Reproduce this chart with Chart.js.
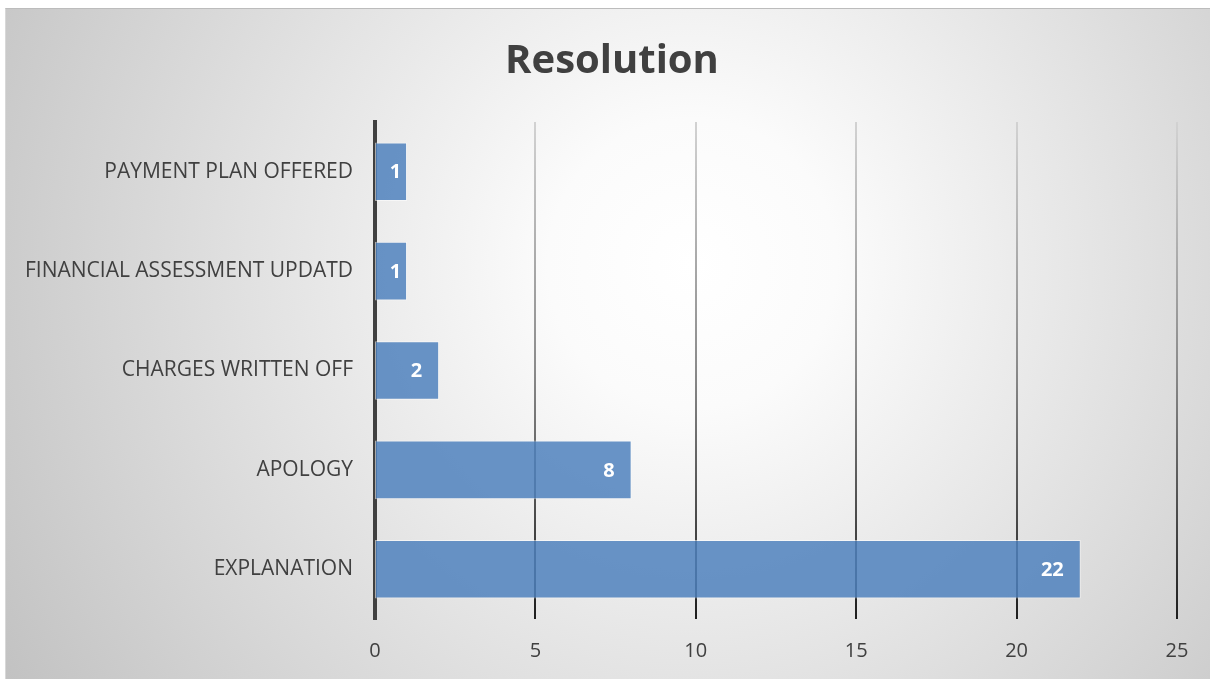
<!DOCTYPE html>
<html>
<head>
<meta charset="utf-8">
<script src="https://cdn.jsdelivr.net/npm/chart.js@4.4.1/dist/chart.umd.min.js"></script>
<style>
  html, body { margin: 0; padding: 0; background: #fff; }
  #wrap {
    position: absolute; left: 5px; top: 8px; width: 1205px; height: 671px;
    background: radial-gradient(circle farthest-corner at 57% 38%, #ffffff 0%, #fbfbfb 18%, #c2c2c2 100%);
    border-top: 1px solid #bcbcbc; border-left: 1px solid #d8d8d8;
    box-sizing: border-box;
  }
  #wrap canvas { position: absolute; left: 0; top: 0; }
</style>
</head>
<body>
<div id="wrap"><canvas id="resolutionChart" width="1205" height="671"></canvas></div>
<script>
let categories = ["PAYMENT PLAN OFFERED", "FINANCIAL ASSESSMENT UPDATD", "CHARGES WRITTEN OFF", "APOLOGY", "EXPLANATION"];
let counts = [1, 1, 2, 8, 22];
let xTicks = [0, 5, 10, 15, 20, 25];
let chartTitle = "Resolution";

const FONT = '"Open Sans", "Noto Sans", sans-serif';
const TEXT_GREY = "#404040";

// grid lines fade from light at the top to nearly black at the bottom
function gridColour(ctx) {
    const area = ctx.chart.chartArea;
    if (!area) return "#888";
    const g = ctx.chart.ctx.createLinearGradient(0, area.top, 0, area.bottom);
    g.addColorStop(0, "#d2d2d2");
    g.addColorStop(0.5, "#8a8a8a");
    g.addColorStop(1, "#1e1e1e");
    return g;
}

// title centred on the whole card, not on the plot area
const cardTitle = {
    id: "cardTitle",
    afterDraw(chart) {
        const ctx = chart.ctx;
        ctx.save();
        ctx.font = "bold 40px " + FONT;
        ctx.fillStyle = TEXT_GREY;
        ctx.textAlign = "center";
        ctx.textBaseline = "middle";
        ctx.fillText(chartTitle, 606, 53);
        ctx.restore();
    }
};

// white value labels just inside the end of each bar
const barValueLabels = {
    id: "barValueLabels",
    afterDatasetsDraw(chart) {
        const ctx = chart.ctx;
        const meta = chart.getDatasetMeta(0);
        ctx.save();
        ctx.font = "bold 20px " + FONT;
        ctx.fillStyle = "#ffffff";
        ctx.textAlign = "right";
        ctx.textBaseline = "middle";
        meta.data.forEach((bar, i) => {
            let txt = String(counts[i]);
            let tw = ctx.measureText(txt).width;
            let w = bar.x - bar.base;
            let pad = (w - tw >= 40) ? 17 : 6;
            ctx.fillText(txt, bar.x - pad, bar.y + 1);
        });
        ctx.restore();
    }
};

const ctx = document.getElementById("resolutionChart").getContext("2d");
const resolutionChart = new Chart(ctx, {
    type: "bar",
    data: {
        labels: categories,
        datasets: [{
            data: counts,
            backgroundColor: "rgba(79, 129, 189, 0.85)",
            borderColor: "rgba(255, 255, 255, 0.55)",
            borderWidth: 1,
            borderSkipped: false,
            barPercentage: 0.59,
            categoryPercentage: 1
        }]
    },
    options: {
        indexAxis: "y",
        responsive: false,
        animation: false,
        layout: { padding: { left: 0, right: 34, top: 113, bottom: 0 } },
        plugins: {
            legend: { display: false },
            tooltip: { enabled: false },
            title: { display: false }
        },
        scales: {
            x: {
                min: 0,
                max: 25,
                afterBuildTicks: (axis) => { axis.ticks = xTicks.map(v => ({ value: v })); },
                afterFit: (axis) => { axis.height = 61; },
                border: { display: false },
                grid: {
                    color: gridColour,
                    lineWidth: (c) => c.index === 0 ? 0 : 2,
                    drawTicks: false
                },
                ticks: {
                    color: TEXT_GREY,
                    font: { family: FONT, size: 20 },
                    padding: 20
                }
            },
            y: {
                afterFit: (axis) => { axis.width = 369; },
                border: { display: true, color: "#404040", width: 4 },
                grid: { display: false, drawTicks: false },
                ticks: {
                    color: TEXT_GREY,
                    font: { family: FONT, size: 21 },
                    padding: 22
                }
            }
        }
    },
    plugins: [barValueLabels, cardTitle]
});
</script>
</body>
</html>
